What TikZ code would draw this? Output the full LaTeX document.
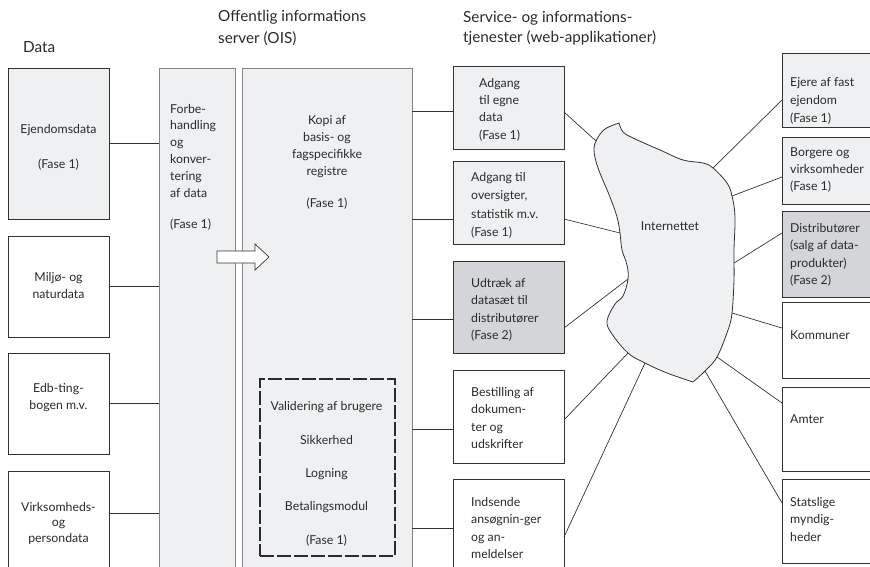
\documentclass[tikz,border=0pt]{standalone}
\usepackage{fontspec}
\setmainfont{Lato}
\usetikzlibrary{calc}
\definecolor{lightfill}{HTML}{EFF0F2}
\definecolor{darkfill}{HTML}{D3D5D8}
\definecolor{edge}{HTML}{333333}
\definecolor{softedge}{HTML}{858585}
\definecolor{ink}{HTML}{2B2B2B}
\begin{document}
\begin{tikzpicture}[x=1pt,y=-1pt,
  box/.style={draw=edge, line width=0.8pt, anchor=north west, inner sep=0pt, outer sep=0pt},
  lbox/.style={box, fill=lightfill},
  dbox/.style={box, fill=darkfill},
  wbox/.style={box, fill=white},
  sbox/.style={draw=softedge, line width=0.8pt, fill=lightfill, anchor=north west, inner sep=0pt, outer sep=0pt},
  txt/.style={inner sep=0pt, anchor=base west, align=left, text=ink, font=\fontsize{12.3}{17.5}\selectfont},
  ctxt/.style={txt, anchor=base, align=center},
  ttl/.style={inner sep=0pt, anchor=base west, align=left, text=ink, font=\fontsize{15.3}{21}\selectfont},
  conn/.style={draw=edge, line width=0.7pt},
  dashbox/.style={draw=ink, line width=1.5pt, dash pattern=on 14pt off 3pt, anchor=north west, inner sep=0pt}
]
\path[use as bounding box] (0,0) rectangle (870,567);
\clip (0,0) rectangle (870,567);

% titles (anchor = baseline of last line)
\node[ttl] (tdata) at (23,52.5) {Data};
\node[ttl, font=\fontsize{15.3}{22}\selectfont] (tois) at (218,44) {Offentlig informations\\server (OIS)};
\node[ttl, font=\fontsize{15.3}{20}\selectfont] (tserv) at (463,43) {Service- og informations-\\tjenester (web-applikationer)};

% left data boxes
\node[lbox, minimum width=101pt, minimum height=151pt] (ejd) at (8,68) {};
\node[wbox, minimum width=101pt, minimum height=101pt] (milj) at (8,236) {};
\node[wbox, minimum width=101pt, minimum height=101pt] (edb) at (8,353) {};
\node[wbox, minimum width=101pt, minimum height=120pt] (virk) at (8,471) {};
\node[ctxt] (ejdt) at (58.5,168.5) {Ejendomsdata\\[18pt](Fase 1)};
\node[ctxt] (miljt) at (58.5,298.5) {Miljø- og\\naturdata};
\node[ctxt] (edbt) at (58.5,409.5) {Edb-ting-\\bogen m.v.};
\node[ctxt, font=\fontsize{12.3}{15.5}\selectfont] (virkt) at (58.5,542) {Virksomheds-\\og\\persondata};

% preprocessing and OIS
\node[sbox, minimum width=76pt, minimum height=530pt] (forb) at (159,68) {};
\node[sbox, minimum width=170pt, minimum height=530pt] (ois) at (242,68) {};
\node[txt, font=\fontsize{12.3}{16.8}\selectfont] (forbt) at (170,228.8) {Forbe-\\handling\\og\\konver-\\tering\\af data\\[15pt](Fase 1)};
\node[ctxt, font=\fontsize{12.3}{17}\selectfont] (kopit) at (327,207) {Kopi af\\basis- og\\fagspecifikke\\registre\\[15pt](Fase 1)};
\node[dashbox, fill=lightfill, minimum width=135pt, minimum height=177pt] (val) at (259,378) {};
\node[ctxt, font=\fontsize{12.3}{33.3}\selectfont] (valt) at (326.5,544) {Validering af brugere\\Sikkerhed\\Logning\\Betalingsmodul\\(Fase 1)};

% arrow
\draw[draw=edge, line width=0.7pt, fill=white] (217,251) -- (255,251) -- (255,244) -- (269,257) -- (255,270) -- (255,263) -- (217,263) -- cycle;

% middle service boxes
\node[lbox, minimum width=111pt, minimum height=83pt] (b1) at (453,66) {};
\node[lbox, minimum width=111pt, minimum height=83pt] (b2) at (453,161) {};
\node[dbox, minimum width=111pt, minimum height=92pt] (b3) at (453,261) {};
\node[wbox, minimum width=111pt, minimum height=93pt] (b4) at (453,370) {};
\node[wbox, minimum width=111pt, minimum height=110pt] (b5) at (453,479) {};
\node[txt] (b1t) at (479,139.5) {Adgang\\til egne\\data\\(Fase 1)};
\node[txt, font=\fontsize{12.3}{18.5}\selectfont] (b2t) at (471,236.5) {Adgang til\\oversigter,\\statistik m.v.\\(Fase 1)};
\node[txt] (b3t) at (471,339.5) {Udtræk af\\datasæt til\\distributører\\(Fase 2)};
\node[txt] (b4t) at (471,448.5) {Bestilling af\\dokumen-\\ter og\\udskrifter};
\node[txt] (b5t) at (471,558.5) {Indsende\\ansøgnin-ger\\og an-\\meldelser};

% right user boxes
\node[lbox, minimum width=110pt, minimum height=74pt] (r1) at (782,53) {};
\node[lbox, minimum width=110pt, minimum height=67pt] (r2) at (782,137) {};
\node[dbox, minimum width=110pt, minimum height=86pt] (r3) at (782,211) {};
\node[wbox, minimum width=110pt, minimum height=76pt] (r4) at (782,302) {};
\node[wbox, minimum width=110pt, minimum height=84pt] (r5) at (782,387) {};
\node[wbox, minimum width=110pt, minimum height=84pt] (r6) at (782,479) {};
\node[txt, font=\fontsize{12.3}{18}\selectfont] (r1t) at (790,123) {Ejere af fast\\ejendom\\(Fase 1)};
\node[txt, font=\fontsize{12.3}{17}\selectfont] (r2t) at (790,190) {Borgere og\\virksomheder\\(Fase 1)};
\node[txt] (r3t) at (790,284.5) {Distributører\\(salg af data-\\produkter)\\(Fase 2)};
\node[txt] (r4t) at (790,339) {Kommuner};
\node[txt] (r5t) at (790,423) {Amter};
\node[txt] (r6t) at (790,541) {Statslige\\myndig-\\heder};

% internet blob
\draw[draw=edge, line width=0.8pt, fill=lightfill]
  plot[smooth, tension=0.6] coordinates {(619,123) (623,132) (633,138) (660,150) (683,160) (703,163) (713,168) (727,183) (732,196) (735,217) (734,250) (734,280) (732,313) (728,330) (717,357) (705,371) (693,382)}
  -- plot[smooth, tension=0.6] coordinates {(693,382) (667,373) (645,363) (628,353) (612,334) (607,321) (615,304) (623,296) (628,279) (627,265) (622,250) (620,233) (617,217) (610,197) (598,168) (594,150) (597,139) (605,129) (619,123)}
  -- cycle;
\node[ctxt] (inet) at (670,230) {Internettet};
\coordinate (p1) at (596,141);
\coordinate (p2) at (620,233);
\coordinate (p3) at (628,279);
\coordinate (p4) at (628,353);
\coordinate (p5) at (645,363);
\coordinate (q1) at (713,168);
\coordinate (q2) at (732,196);
\coordinate (q3) at (734,263);
\coordinate (q4) at (732,313);
\coordinate (q5) at (717,357);
\coordinate (q6) at (705,371);

% connectors left -> preprocessing
\draw[conn] (ejd.east) -- (ejd.east -| forb.west);
\draw[conn] (milj.east) -- (milj.east -| forb.west);
\draw[conn] (edb.east) -- (edb.east -| forb.west);
\coordinate (virko) at ($(virk.north east)+(0,42)$);
\draw[conn] (virko) -- (virko -| forb.west);

% connectors OIS -> services
\coordinate (b1i) at ($(b1.north west)+(0,45)$);
\coordinate (b2i) at ($(b2.north west)+(0,58)$);
\coordinate (b3i) at ($(b3.north west)+(0,58)$);
\coordinate (b4i) at ($(b4.north west)+(0,59)$);
\coordinate (b5i) at ($(b5.north west)+(0,49)$);
\draw[conn] (b1i -| ois.east) -- (b1i);
\draw[conn] (b2i -| ois.east) -- (b2i);
\draw[conn] (b3i -| ois.east) -- (b3i);
\draw[conn] (b4i -| ois.east) -- (b4i);
\draw[conn] (b5i -| ois.east) -- (b5i);

% services -> internet
\coordinate (b1o) at ($(b1.north east)+(0,46)$);
\coordinate (b2o) at ($(b2.north east)+(0,58)$);
\coordinate (b3o) at ($(b3.north east)+(0,67)$);
\coordinate (b4o) at ($(b4.north east)+(0,50)$);
\coordinate (b5o) at ($(b5.north east)+(0,58)$);
\draw[conn] (b1o) -- (p1);
\draw[conn] (b2o) -- (p2);
\draw[conn] (b3o) -- (p3);
\draw[conn] (b4o) -- (p4);
\draw[conn] (b5o) -- (p5);

% internet -> users
\coordinate (r1i) at ($(r1.north west)+(0,47)$);
\coordinate (r2i) at ($(r2.north west)+(0,40)$);
\coordinate (r3i) at ($(r3.north west)+(0,22)$);
\coordinate (r4i) at ($(r4.north west)+(0,26)$);
\coordinate (r5i) at ($(r5.north west)+(0,16)$);
\coordinate (r6i) at ($(r6.north west)+(0,24)$);
\draw[conn] (q1) -- (r1i);
\draw[conn] (q2) -- (r2i);
\draw[conn] (q3) -- (r3i);
\draw[conn] (q4) -- (r4i);
\draw[conn] (q5) -- (r5i);
\draw[conn] (q6) -- (r6i);
\end{tikzpicture}
\end{document}
